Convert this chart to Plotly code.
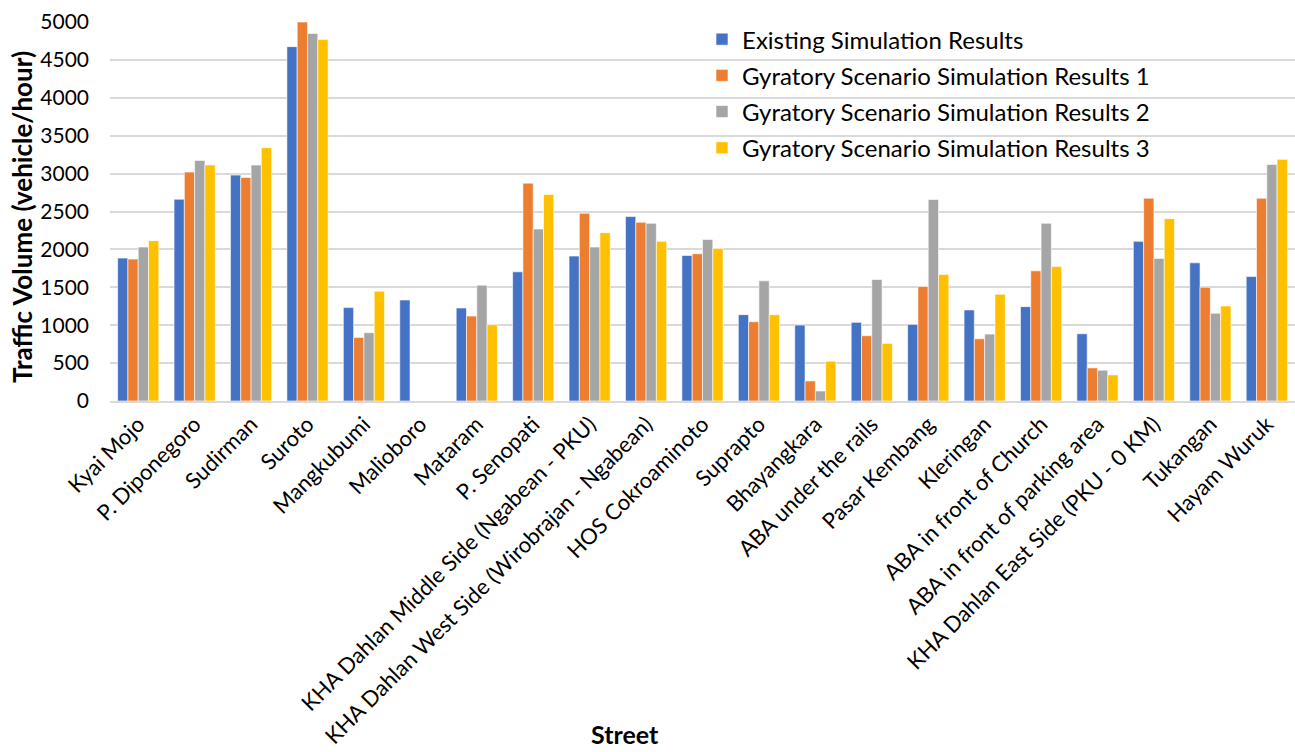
import plotly.graph_objects as go

streets = [
    "Kyai Mojo", "P. Diponegoro", "Sudirman", "Suroto", "Mangkubumi", "Malioboro",
    "Mataram", "P. Senopati", "KHA Dahlan Middle Side (Ngabean - PKU)",
    "KHA Dahlan West Side (Wirobrajan - Ngabean)", "HOS Cokroaminoto", "Suprapto",
    "Bhayangkara", "ABA under the rails", "Pasar Kembang", "Kleringan",
    "ABA in front of Church", "ABA in front of parking area",
    "KHA Dahlan East Side (PKU - 0 KM)", "Tukangan", "Hayam Wuruk",
]

existing = [1885, 2662, 2980, 4675, 1232, 1333, 1227, 1704, 1912, 2433, 1920,
            1139, 1002, 1038, 1011, 1201, 1245, 887, 2106, 1823, 1642]
gyratory_1 = [1872, 3020, 2949, 5000, 839, 0, 1121, 2874, 2477, 2358, 1943,
              1046, 265, 861, 1510, 821, 1717, 437, 2675, 1501, 2675]
gyratory_2 = [2031, 3174, 3113, 4848, 901, 0, 1528, 2269, 2031, 2344, 2132,
              1585, 132, 1603, 2658, 883, 2344, 406, 1881, 1157, 3121]
gyratory_3 = [2115, 3113, 3342, 4768, 1448, 0, 1007, 2724, 2221, 2106, 2013,
              1139, 525, 759, 1669, 1408, 1775, 344, 2406, 1254, 3188]

series = [
    ("Existing Simulation Results", existing, "#4472C4"),
    ("Gyratory Scenario Simulation Results 1", gyratory_1, "#ED7D31"),
    ("Gyratory Scenario Simulation Results 2", gyratory_2, "#A5A5A5"),
    ("Gyratory Scenario Simulation Results 3", gyratory_3, "#FFC000"),
]

FONT = "Lato, 'Open Sans', sans-serif"

W, H = 1295, 752
L, R, T, B = 110, 0, 22, 351
PW, PH = W - L - R, H - T - B


def to_paper(px, py):
    """Convert page pixel coordinates to paper coordinates."""
    return (px - L) / PW, (H - B - py) / PH


fig = go.Figure()
for name, values, color in series:
    fig.add_trace(go.Bar(
        x=streets, y=values, name=name, legendgroup=name,
        marker=dict(color=color, line=dict(color="white", width=0.6)),
    ))

sx, sy = to_paper(625, 734)
tx, ty = to_paper(22, 217)

fig.update_layout(
    width=W, height=H,
    margin=dict(l=L, r=R, t=T, b=B),
    paper_bgcolor="white", plot_bgcolor="white",
    barmode="group", bargap=0.27, bargroupgap=0,
    font=dict(family=FONT, color="#000000"),
    legend=dict(
        x=0.4996, y=1.013, xanchor="left", yanchor="top",
        font=dict(size=24, family=FONT, color="#000000"),
        bgcolor="rgba(255,255,255,0)", traceorder="grouped",
        tracegroupgap=2, itemwidth=30,
    ),
    xaxis=dict(
        tickangle=-45, tickfont=dict(size=22, family=FONT),
        showgrid=False, showline=True, linecolor="#d9d9d9", linewidth=1.5,
        ticks="", automargin=False,
    ),
    yaxis=dict(
        range=[0, 5000], dtick=500, tickfont=dict(size=21, family=FONT),
        ticklabelstandoff=20,
        showgrid=True, gridcolor="#d9d9d9", gridwidth=1.5,
        zeroline=False, showline=False, ticks="", automargin=False,
    ),
    annotations=[
        dict(text="<b>Street</b>", x=sx, y=sy, xref="paper", yref="paper",
             xanchor="center", yanchor="middle", showarrow=False,
             font=dict(size=25, family=FONT)),
        dict(text="<b>Traffic Volume (vehicle/hour)</b>", x=tx, y=ty,
             xref="paper", yref="paper", xanchor="center", yanchor="middle",
             showarrow=False, textangle=-90, font=dict(size=26, family=FONT)),
    ],
)

fig.write_html("out.html")
